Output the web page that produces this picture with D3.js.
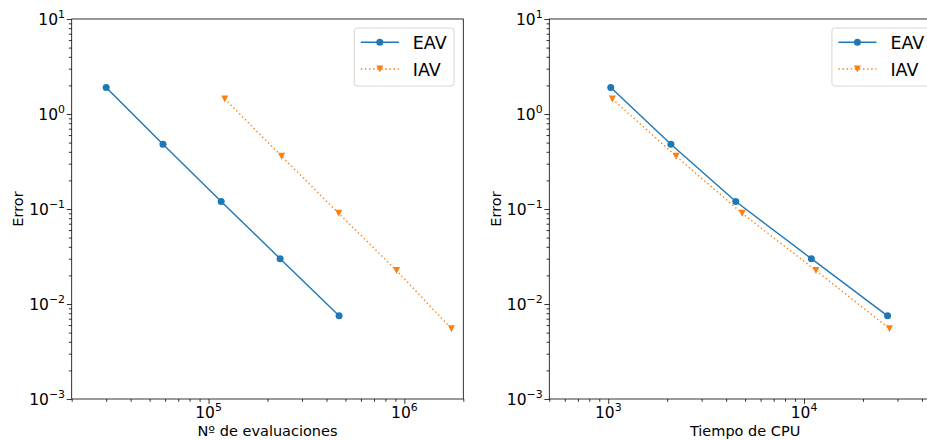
<!DOCTYPE html>
<html>
<head>
<meta charset="utf-8">
<script src="https://cdn.jsdelivr.net/npm/d3@7"></script>
<style>
  body { margin: 0; background: #fff; }
  svg { display: block; font-family: "DejaVu Sans", sans-serif; }
</style>
</head>
<body>
<svg id="fig" width="927" height="440"></svg>
<script>
// Convergence data: error vs. number of evaluations and vs. CPU time
const seriesNames = ["EAV", "IAV"];
const evalsEAV = [30000, 58500, 116000, 232000, 464000];
const evalsIAV = [121000, 236000, 462000, 912000, 1740000];
const cpuEAV = [1030, 2090, 4480, 10900, 26700];
const cpuIAV = [1050, 2220, 4830, 11500, 27300];
const errorEAV = [1.9, 0.48, 0.12, 0.030, 0.0075];
const errorIAV = [1.44, 0.36, 0.09, 0.0225, 0.0055];

// Tick exponents (labels are drawn as 10^k)
const yTickExps = [-3, -2, -1, 0, 1];
const xTickExpsEvals = [5, 6];
const xTickExpsCpu = [3, 4];

const xLabelEvals = "Nº de evaluaciones";
const xLabelCpu = "Tiempo de CPU";
const yLabel = "Error";

const colors = ["#1f77b4", "#ff7f0e"];

const svg = d3.select("#fig");
const plotTop = 19, plotBottom = 399, panelW = 391.6;

// Downward triangle marker
const symbolTriDown = {
  draw(ctx, size) {
    const h = Math.sqrt(size) / 2;
    ctx.moveTo(-h, -h);
    ctx.lineTo(h, -h);
    ctx.lineTo(0, h);
    ctx.closePath();
  }
};
const markerPath = [
  d3.symbol().type(d3.symbolCircle).size(Math.PI * 3.5 * 3.5)(),
  d3.symbol().type(symbolTriDown).size(49)()
];

function sup(k) {
  return (k < 0 ? "\u2212" : "") + Math.abs(k);
}

function panel(left, xDomain, xExps, xs, ys, xLabel) {
  const x = d3.scaleLog().domain(xDomain).range([left, left + panelW]);
  const y = d3.scaleLog().domain([1e-3, 10]).range([plotBottom, plotTop]);
  const g = svg.append("g");

  const isPow10 = v => Math.abs(Math.log10(v) - Math.round(Math.log10(v))) < 1e-9;
  const xMajors = xExps.map(k => Math.pow(10, k));
  const xMinors = x.ticks().filter(v => !isPow10(v));
  const yMajors = yTickExps.map(k => Math.pow(10, k));
  const yMinors = y.ticks().filter(v => !isPow10(v));

  function styleAxis(sel) {
    sel.select(".domain").remove();
    sel.selectAll(".tick line").attr("stroke", "#000").attr("stroke-width", 0.8);
  }

  g.append("g").attr("transform", `translate(0,${plotBottom})`)
    .call(d3.axisBottom(x).tickValues(xMajors).tickSize(4.9).tickFormat(() => ""))
    .call(styleAxis);
  g.append("g").attr("transform", `translate(0,${plotBottom})`)
    .call(d3.axisBottom(x).tickValues(xMinors).tickSize(2.8).tickFormat(() => ""))
    .call(styleAxis);
  g.append("g").attr("transform", `translate(${left},0)`)
    .call(d3.axisLeft(y).tickValues(yMajors).tickSize(4.9).tickFormat(() => ""))
    .call(styleAxis);
  g.append("g").attr("transform", `translate(${left},0)`)
    .call(d3.axisLeft(y).tickValues(yMinors).tickSize(2.8).tickFormat(() => ""))
    .call(styleAxis);

  // x tick labels
  xExps.forEach(k => {
    const t = g.append("text")
      .attr("x", x(Math.pow(10, k))).attr("y", 418.3)
      .attr("text-anchor", "middle").attr("font-size", 15.5).attr("fill", "#000");
    t.append("tspan").text("10");
    t.append("tspan").attr("dy", -7).attr("font-size", 10.9).text(sup(k));
  });
  // y tick labels
  yTickExps.forEach(k => {
    const t = g.append("text")
      .attr("x", left - 6.7).attr("y", y(Math.pow(10, k)) + 6.2)
      .attr("text-anchor", "end").attr("font-size", 15.5).attr("fill", "#000");
    t.append("tspan").text("10");
    t.append("tspan").attr("dy", -7.2).attr("font-size", 10.9).text(sup(k));
  });

  // axis labels
  g.append("text")
    .attr("x", left + panelW / 2).attr("y", 436)
    .attr("text-anchor", "middle").attr("font-size", 14.5).attr("fill", "#000")
    .text(xLabel);
  g.append("text")
    .attr("transform", `translate(${left - 48.4},${(plotTop + plotBottom) / 2}) rotate(-90)`)
    .attr("text-anchor", "middle").attr("font-size", 14.5).attr("fill", "#000")
    .text(yLabel);

  // series
  const plot = g.append("g");
  xs.forEach((xv, s) => {
    const pts = xv.map((v, i) => [x(v), y(ys[s][i])]);
    plot.append("path")
      .attr("d", d3.line()(pts))
      .attr("fill", "none").attr("stroke", colors[s]).attr("stroke-width", 1.4)
      .attr("stroke-dasharray", s === 1 ? "1.4,2.7" : null);
    plot.selectAll(null).data(pts).enter().append("path")
      .attr("d", markerPath[s])
      .attr("transform", d => `translate(${d[0]},${d[1]})`)
      .attr("fill", colors[s]);
  });

  // frame
  g.append("rect")
    .attr("x", left).attr("y", plotTop).attr("width", panelW).attr("height", plotBottom - plotTop)
    .attr("fill", "none").attr("stroke", "#000").attr("stroke-width", 0.8);

  // legend
  const bx = left + panelW - 9.3 - 99.7, by = plotTop + 9;
  const lg = g.append("g");
  lg.append("rect")
    .attr("x", bx).attr("y", by).attr("width", 99.7).attr("height", 58).attr("rx", 3)
    .attr("fill", "#fff").attr("fill-opacity", 0.8)
    .attr("stroke", "#cccccc").attr("stroke-width", 0.8);
  seriesNames.forEach((name, s) => {
    const ry = by + 14.3 + s * 26.7;
    lg.append("line")
      .attr("x1", bx + 6.5).attr("x2", bx + 44.5).attr("y1", ry).attr("y2", ry)
      .attr("stroke", colors[s]).attr("stroke-width", 1.4)
      .attr("stroke-dasharray", s === 1 ? "1.4,2.7" : null);
    lg.append("path").attr("d", markerPath[s])
      .attr("transform", `translate(${bx + 25.5},${ry})`).attr("fill", colors[s]);
    lg.append("text")
      .attr("x", bx + 58.5).attr("y", ry + 6.5)
      .attr("font-size", 17.5).attr("fill", "#000").text(name);
  });
}

panel(71.7, [2e4, 2e6], xTickExpsEvals, [evalsEAV, evalsIAV], [errorEAV, errorIAV], xLabelEvals);
panel(549.3, [500, 5e4], xTickExpsCpu, [cpuEAV, cpuIAV], [errorEAV, errorIAV], xLabelCpu);
</script>
</body>
</html>
